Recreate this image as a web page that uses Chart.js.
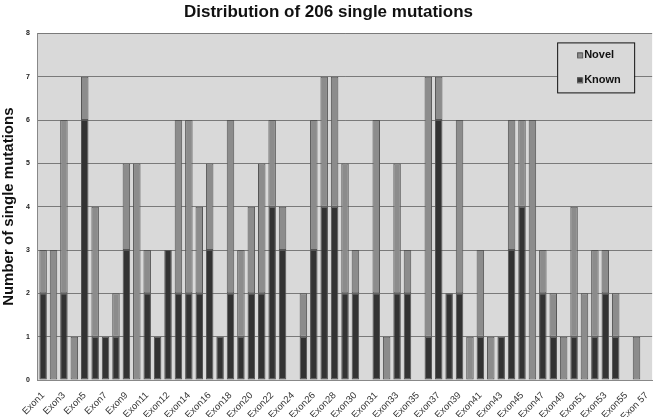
<!DOCTYPE html>
<html>
<head>
<meta charset="utf-8">
<script src="https://cdn.jsdelivr.net/npm/chart.js@4"></script>
<style>
  html, body { margin: 0; padding: 0; background: #fff; }
  #wrap { width: 657px; height: 417px; }
</style>
</head>
<body>
<div id="wrap"><canvas id="barChart"></canvas></div>
<script>
// categories (every other one gets a tick label, like the original)
const exons = ['Exon1', 'Exon2', 'Exon3', 'Exon4', 'Exon5', 'Exon6', 'Exon7', 'Exon8', 'Exon9', 'Exon10',
    'Exon11', 'Intron11', 'Exon12', 'Exon13', 'Exon14', 'Exon15', 'Exon16', 'Exon17', 'Exon18', 'Exon19',
    'Exon20', 'Exon21', 'Exon22', 'Exon23', 'Exon24', 'Exon25', 'Exon26', 'Exon27', 'Exon28', 'Exon29',
    'Exon30', 'Intron30', 'Exon31', 'Exon32', 'Exon33', 'Exon34', 'Exon35', 'Exon36', 'Exon37', 'Exon38',
    'Exon39', 'Exon40', 'Exon41', 'Exon42', 'Exon43', 'Exon44', 'Exon45', 'Exon46', 'Exon47', 'Exon48',
    'Exon49', 'Exon50', 'Exon51', 'Exon52', 'Exon53', 'Exon54', 'Exon55', 'Exon56', 'Exon 57'];

const known = [2, 0, 2, 0, 6, 1, 1, 1, 3, 0,
    2, 1, 3, 2, 2, 2, 3, 1, 2, 1,
    2, 2, 4, 3, 0, 1, 3, 4, 4, 2,
    2, 0, 2, 0, 2, 2, 0, 1, 6, 2,
    2, 0, 1, 0, 1, 3, 4, 0, 2, 1,
    0, 1, 0, 1, 2, 1, 0, 0, 0];

const novel = [1, 3, 4, 1, 1, 3, 0, 1, 2, 5,
    1, 0, 0, 4, 4, 2, 2, 0, 4, 2,
    2, 3, 2, 1, 0, 1, 3, 3, 3, 3,
    1, 0, 4, 1, 3, 1, 0, 6, 1, 0,
    4, 1, 2, 1, 0, 3, 2, 6, 1, 1,
    1, 3, 2, 2, 1, 1, 0, 1, 0];

const yTicks = [0, 1, 2, 3, 4, 5, 6, 7, 8];

// grey plot background
const plotBg = {
    id: 'plotBg',
    beforeDraw(chart) {
        const { ctx, chartArea: a } = chart;
        ctx.save();
        ctx.fillStyle = '#d9d9d9';
        ctx.fillRect(a.left, a.top, a.right - a.left, a.bottom - a.top);
        ctx.restore();
    }
};

// boxed legend inside the plot, top right
const boxLegend = {
    id: 'boxLegend',
    afterDraw(chart) {
        const { ctx, chartArea: a } = chart;
        const x = a.right - 95, y = a.top + 9, w = 77, h = 50;
        ctx.save();
        ctx.fillStyle = '#d9d9d9';
        ctx.fillRect(x, y, w, h);
        ctx.strokeStyle = '#111';
        ctx.lineWidth = 1;
        ctx.strokeRect(x + 0.5, y + 0.5, w, h);
        // reversed order: Novel on top
        const items = chart.data.datasets.slice().reverse();
        ctx.font = 'bold 11px Arial, "Liberation Sans", sans-serif';
        ctx.textBaseline = 'middle';
        items.forEach((ds, i) => {
            const ly = y + 13 + i * 25;
            ctx.fillStyle = ds.backgroundColor;
            ctx.fillRect(x + 20, ly - 3, 5, 5);
            ctx.strokeStyle = '#555';
            ctx.strokeRect(x + 20.5, ly - 2.5, 5, 5);
            ctx.fillStyle = '#111';
            ctx.fillText(ds.label, x + 27, ly);
        });
        ctx.restore();
    }
};

const ctx = document.getElementById('barChart').getContext('2d');
new Chart(ctx, {
    type: 'bar',
    data: {
        labels: exons,
        datasets: [{
            label: 'Known',
            data: known,
            backgroundColor: '#333333',
            borderColor: '#555555',
            borderWidth: 1,
            borderSkipped: false,
            categoryPercentage: 1,
            barPercentage: 0.72
        }, {
            label: 'Novel',
            data: novel,
            backgroundColor: '#8c8c8c',
            borderColor: '#555555',
            borderWidth: 1,
            borderSkipped: false,
            categoryPercentage: 1,
            barPercentage: 0.72
        }]
    },
    options: {
        responsive: true,
        maintainAspectRatio: false,
        animation: false,
        layout: { padding: { left: 0, right: 0, top: 0, bottom: 0 } },
        plugins: {
            legend: { display: false },
            tooltip: { enabled: false },
            title: {
                display: true,
                text: 'Distribution of 206 single mutations',
                color: '#111',
                font: { family: 'Arial, "Liberation Sans", sans-serif', size: 17, weight: 'bold' },
                padding: { top: 2, bottom: 11 }
            }
        },
        scales: {
            x: {
                stacked: true,
                grid: { display: false },
                border: { color: '#888' },
                afterFit: axis => { axis.height = 37; },
                ticks: {
                    autoSkip: false,
                    maxRotation: 45,
                    minRotation: 45,
                    padding: 2,
                    color: '#333',
                    font: { family: 'Arial, "Liberation Sans", sans-serif', size: 9.5 },
                    callback: function (val, i) { return i % 2 === 0 ? this.getLabelForValue(val) : ''; }
                }
            },
            y: {
                stacked: true,
                min: 0,
                max: 8,
                afterBuildTicks: axis => { axis.ticks = yTicks.map(v => ({ value: v })); },
                grid: { color: '#7a7a7a', lineWidth: 1, drawTicks: false },
                border: { color: '#888' },
                ticks: {
                    padding: 8,
                    color: '#222',
                    font: { family: 'Arial, "Liberation Sans", sans-serif', size: 7, weight: 'bold' }
                },
                title: {
                    display: true,
                    text: 'Number of single mutations',
                    color: '#111',
                    font: { family: 'Arial, "Liberation Sans", sans-serif', size: 15, weight: 'bold' },
                    padding: { top: 0, bottom: 0 }
                }
            }
        }
    },
    plugins: [plotBg, boxLegend]
});
</script>
</body>
</html>
